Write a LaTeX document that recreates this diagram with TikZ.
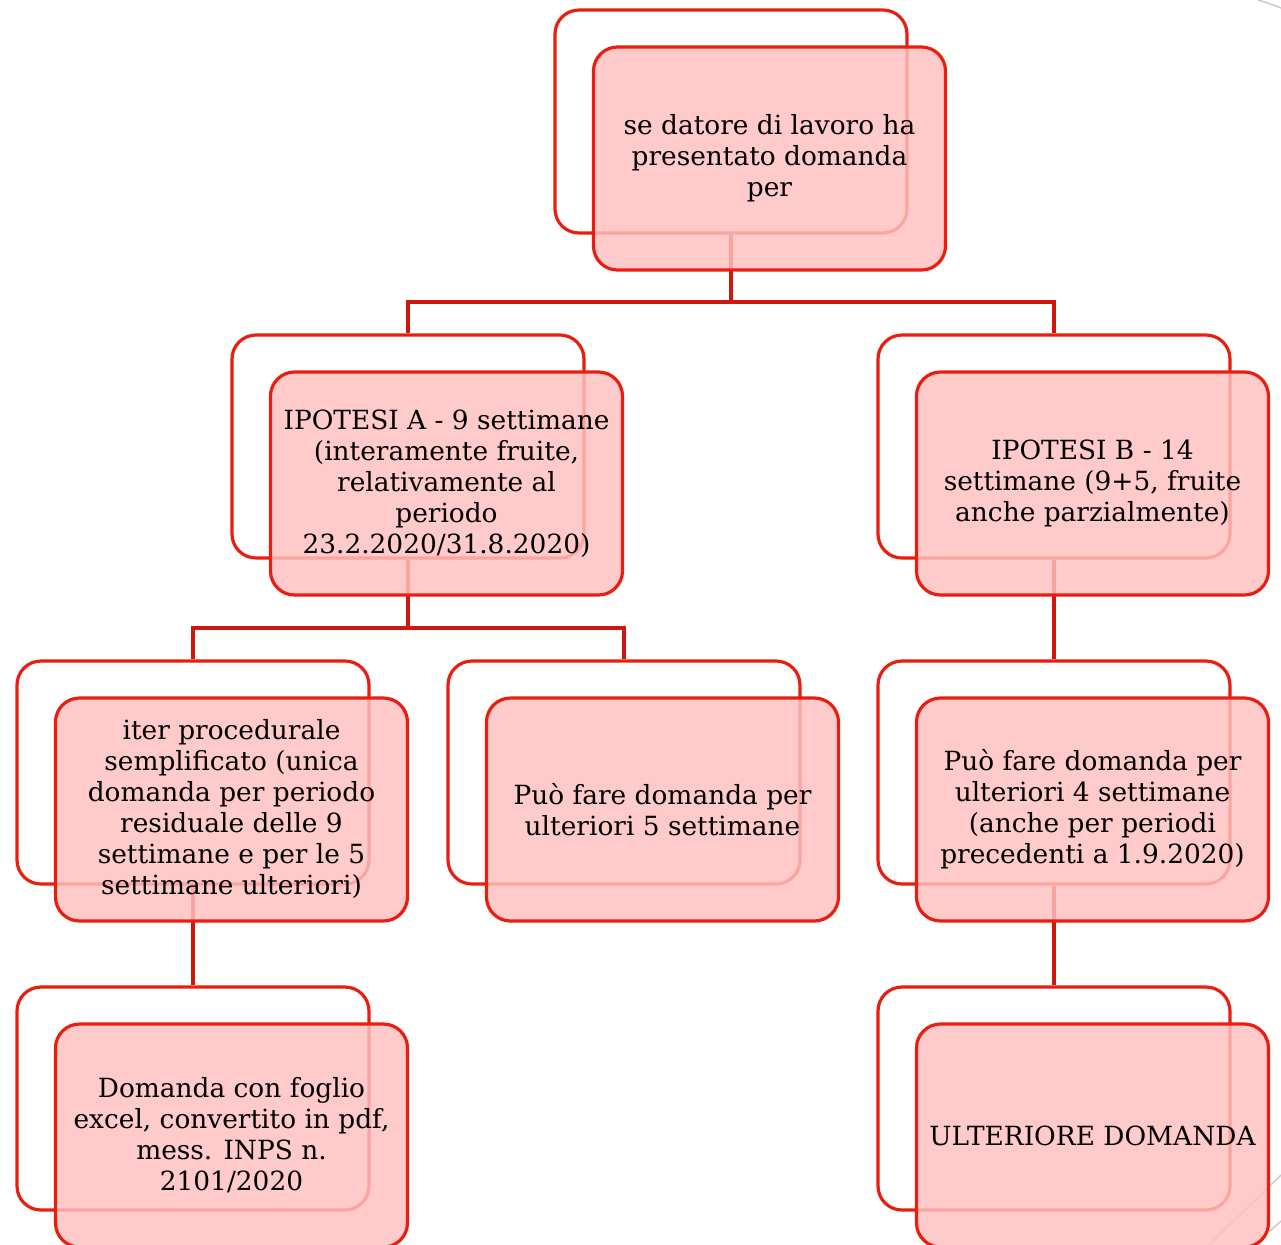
\documentclass[tikz,border=0pt]{standalone}
\usepackage{fontspec}
\setmainfont{DejaVu Serif}
\usetikzlibrary{calc}
\definecolor{boxred}{RGB}{234,30,16}
\definecolor{linkred}{RGB}{206,24,14}
\definecolor{boxpink}{RGB}{255,192,192}

\begin{document}
\begin{tikzpicture}[x=0.5pt,y=-0.5pt,
  back/.style={draw=boxred,line width=1.6pt,rounded corners=12pt,fill=white,
    minimum width=176pt,minimum height=111.5pt,inner sep=0pt},
  front/.style={draw=boxred,line width=1.6pt,rounded corners=12pt,fill=boxpink,
    fill opacity=0.84,text opacity=1,minimum width=176pt,minimum height=111.5pt,
    inner sep=0pt,align=center,font=\fontsize{13.2pt}{15.5pt}\selectfont},
  link/.style={draw=linkred,line width=1.6pt}]
\clip (0,0) rectangle (1281,1244);
\useasboundingbox (0,0) rectangle (1281,1244);
\draw [gray!40,line width=0.8pt] (1258,0) .. controls (1268,3) .. (1281,8);
\draw [gray!40,line width=0.8pt] (1210,1244) -- (1281,1175);
\draw [gray!40,line width=0.8pt] (1270,1231) -- (1281,1221);
% back frames
\node [back] (topb) at (731,121.5) {};
\node [back] (Ab) at (408,446.5) {};
\node [back] (Bb) at (1054,446.5) {};
\node [back] (iterb) at (193,772.5) {};
\node [back] (p5b) at (624,772.5) {};
\node [back] (p4b) at (1054,772.5) {};
\node [back] (domb) at (193,1098.5) {};
\node [back] (ultb) at (1054,1098.5) {};
% connectors
\coordinate (bus1) at (731,302);
\coordinate (bus2) at (408,628);
\draw [link] (topb.south) -- (bus1) -| (Ab.north);
\draw [link] (bus1) -| (Bb.north);
\draw [link] (Ab.south) -- (bus2) -| (iterb.north);
\draw [link] (bus2) -| (p5b.north);
\draw [link] (Bb.south) -- (p4b.north);
\draw [link] (iterb.south) -- (domb.north);
\draw [link] (p4b.south) -- (ultb.north);
% front boxes
\node [front] (topf) at ($(topb)+(38.5,37)$) {se datore di lavoro ha\\presentato domanda\\per};
\node [front] (Af) at ($(Ab)+(38.5,37)$) {IPOTESI A - 9 settimane\\(interamente fruite,\\relativamente al\\periodo\\23.2.2020/31.8.2020)};
\node [front] (Bf) at ($(Bb)+(38.5,37)$) {IPOTESI B - 14\\settimane (9+5, fruite\\anche parzialmente)};
\node [front] (iterf) at ($(iterb)+(38.5,37)$) {iter procedurale\\semplificato (unica\\domanda per periodo\\residuale delle 9\\settimane e per le 5\\settimane ulteriori)};
\node [front] (p5f) at ($(p5b)+(38.5,37)$) {Può fare domanda per\\ulteriori 5 settimane};
\node [front] (p4f) at ($(p4b)+(38.5,37)$) {Può fare domanda per\\ulteriori 4 settimane\\(anche per periodi\\precedenti a 1.9.2020)};
\node [front] (domf) at ($(domb)+(38.5,37)$) {Domanda con foglio\\excel, convertito in pdf,\\mess. INPS n.\\2101/2020};
\node [front] (ultf) at ($(ultb)+(38.5,37)$) {ULTERIORE DOMANDA};
\end{tikzpicture}
\end{document}
